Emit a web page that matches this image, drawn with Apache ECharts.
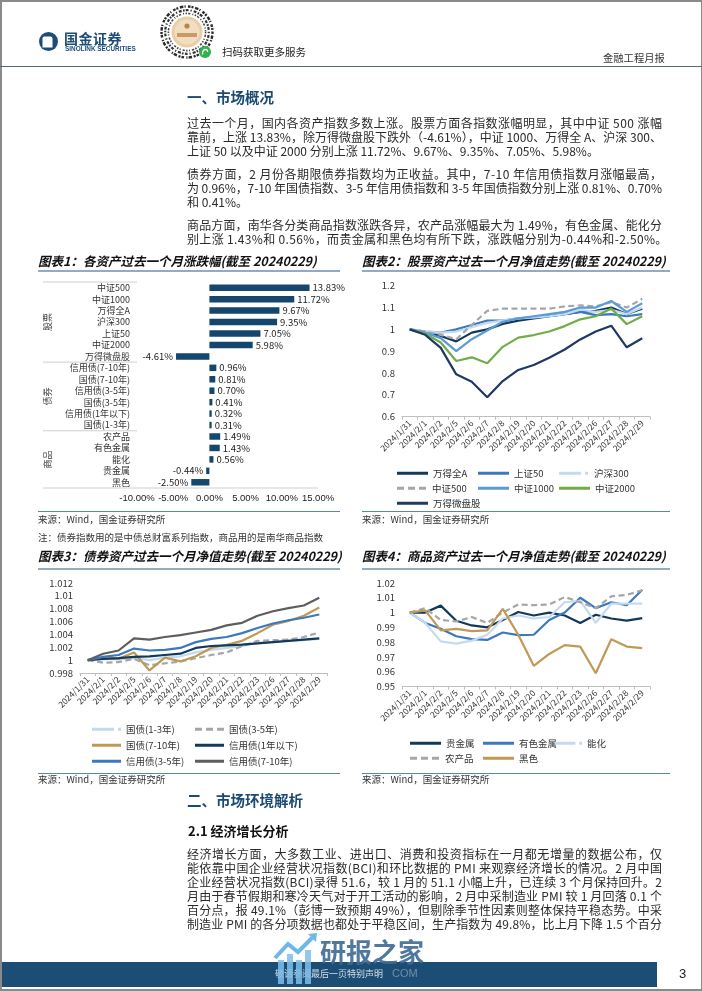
<!DOCTYPE html>
<html><head><meta charset="utf-8">
<script src="https://cdn.jsdelivr.net/npm/echarts/dist/echarts.min.js"></script>
<style>
html,body{margin:0;padding:0;background:#fff;}
#page{position:relative;width:702px;height:991px;overflow:hidden;background:#fff;font-family:"Noto Sans CJK SC","Liberation Sans",sans-serif;}
#chart{position:absolute;left:0;top:0;width:702px;height:991px;z-index:1;}
.t{position:absolute;z-index:2;white-space:nowrap;color:#222;}
.ln{position:absolute;z-index:2;left:187px;font-size:12px;line-height:14px;height:14px;color:#2a2a2a;white-space:nowrap;}
.h1{position:absolute;z-index:2;left:187px;font-size:14.5px;font-weight:bold;color:#1b4a72;line-height:20px;white-space:nowrap;}
.ct{position:absolute;z-index:2;font-size:12.5px;font-weight:bold;font-style:italic;color:#111;line-height:16px;white-space:nowrap;}
.src{position:absolute;z-index:2;font-size:9.5px;color:#333;line-height:12px;white-space:nowrap;}
.hl{position:absolute;z-index:2;}
</style></head>
<body>
<div id="page">
  <div id="chart"></div>

  <!-- page frame -->
  <div class="hl" style="left:0;top:0;width:702px;height:1.5px;background:#8a8a8a"></div>
  <div class="hl" style="left:0;top:0;width:1.5px;height:991px;background:#8a8a8a"></div>
  <div class="hl" style="right:0;top:0;width:1.5px;height:991px;background:#8a8a8a"></div>
  <div class="hl" style="left:0;bottom:0;width:702px;height:2px;background:#8a8a8a"></div>

  <!-- header -->
  <svg class="hl" style="left:0;top:0" width="702" height="70">
    <circle cx="48.5" cy="41.5" r="9.5" fill="#1b4d78"/>
    <path d="M44.5 36.5 h6 a2 2 0 0 1 2 2 v9 h-10 v-9 a2 2 0 0 1 2 -2z" fill="#fff"/>
    <circle cx="187" cy="32" r="25.5" fill="none" stroke="#2a2a2a" stroke-width="2.4" stroke-dasharray="2 1.6 3.5 1.2 1.2 2.4 2.6 1"/>
    <circle cx="187" cy="32" r="21.8" fill="none" stroke="#333" stroke-width="2.2" stroke-dasharray="1.2 2 2.8 1.4 1.6 1.1 3 2"/>
    <circle cx="187" cy="32" r="18.6" fill="none" stroke="#444" stroke-width="1.6" stroke-dasharray="1.5 1.3 2.2 2 1 1.5"/>
    <circle cx="187" cy="32" r="15.5" fill="#e9cfa8"/>
    <circle cx="187" cy="32" r="12.5" fill="#f1ddc0"/>
    <circle cx="187" cy="26" r="2.6" fill="#b7854c"/>
    <rect x="177" y="33" width="20" height="4" fill="#c99a63"/>
    <circle cx="205" cy="52" r="6" fill="#2fb24c"/>
    <path d="M202.5 54.5 q0 -5 3 -5 q2.5 0 2 2.5" stroke="#fff" stroke-width="1.3" fill="none"/>
  </svg>
  <div class="t" style="left:64px;top:29px;font-size:14px;font-weight:bold;color:#1b4d78;line-height:18px;letter-spacing:0.5px">国金证券</div>
  <div class="t" style="left:65px;top:45px;font-size:6.4px;font-weight:bold;color:#1b4d78;line-height:8px;font-family:'Liberation Sans',sans-serif">SINOLINK SECURITIES</div>
  <div class="t" style="left:222px;top:45px;font-size:10.5px;color:#222;line-height:14px">扫码获取更多服务</div>
  <div class="t" style="left:603px;top:51px;font-size:10.3px;color:#333;line-height:13px">金融工程月报</div>
  <div class="hl" style="left:0;top:65.5px;width:702px;height:1.5px;background:#4f6b84"></div>

  <!-- section 1 -->
  <div class="h1" style="top:87px">一、市场概况</div>
  <div class="ln j" style="top:116px">过去一个月，国内各资产指数多数上涨。股票方面各指数涨幅明显，其中中证 500 涨幅</div>
  <div class="ln j" style="top:130px">靠前，上涨 13.83%，除万得微盘股下跌外（-4.61%），中证 1000、万得全 A、沪深 300、</div>
  <div class="ln" style="top:144px">上证 50 以及中证 2000 分别上涨 11.72%、9.67%、9.35%、7.05%、5.98%。</div>
  <div class="ln j" style="top:167px">债券方面，2 月份各期限债券指数均为正收益。其中，7-10 年信用债指数月涨幅最高，</div>
  <div class="ln j" style="top:181px">为 0.96%，7-10 年国债指数、3-5 年信用债指数和 3-5 年国债指数分别上涨 0.81%、0.70%</div>
  <div class="ln" style="top:195px">和 0.41%。</div>
  <div class="ln j" style="top:218px">商品方面，南华各分类商品指数涨跌各异，农产品涨幅最大为 1.49%，有色金属、能化分</div>
  <div class="ln" style="top:232px;letter-spacing:0.35px">别上涨 1.43%和 0.56%，而贵金属和黑色均有所下跌，涨跌幅分别为-0.44%和-2.50%。</div>

  <!-- chart titles row 1 -->
  <div class="ct" style="left:38px;top:253px">图表1：各资产过去一个月涨跌幅(截至 20240229)</div>
  <div class="ct" style="left:362px;top:253px">图表2：股票资产过去一个月净值走势(截至 20240229)</div>
  <div class="hl" style="left:38px;top:270px;width:302px;height:2px;background:#93abc0"></div>
  <div class="hl" style="left:362px;top:270px;width:308px;height:2px;background:#93abc0"></div>
  <div class="hl" style="left:38px;top:510.5px;width:302px;height:1.5px;background:#5f84a6"></div>
  <div class="hl" style="left:362px;top:510.5px;width:308px;height:1.5px;background:#5f84a6"></div>
  <div class="src" style="left:38px;top:513px">来源：Wind，国金证券研究所</div>
  <div class="src" style="left:362px;top:513px">来源：Wind，国金证券研究所</div>
  <div class="src" style="left:38px;top:531px">注：债券指数用的是中债总财富系列指数，商品用的是南华商品指数</div>

  <!-- chart titles row 2 -->
  <div class="ct" style="left:38px;top:548px">图表3：债券资产过去一个月净值走势(截至 20240229)</div>
  <div class="ct" style="left:362px;top:548px">图表4：商品资产过去一个月净值走势(截至 20240229)</div>
  <div class="hl" style="left:38px;top:568px;width:302px;height:2px;background:#93abc0"></div>
  <div class="hl" style="left:362px;top:568px;width:308px;height:2px;background:#93abc0"></div>
  <div class="hl" style="left:38px;top:772.5px;width:302px;height:1.5px;background:#5f84a6"></div>
  <div class="hl" style="left:362px;top:772.5px;width:308px;height:1.5px;background:#5f84a6"></div>
  <div class="src" style="left:38px;top:773px">来源：Wind，国金证券研究所</div>
  <div class="src" style="left:362px;top:773px">来源：Wind，国金证券研究所</div>

  <!-- section 2 -->
  <div class="h1" style="top:790px">二、市场环境解析</div>
  <div class="t" style="left:188px;top:822px;font-size:13px;font-weight:bold;color:#111;line-height:18px">2.1 经济增长分析</div>
  <div class="ln j" style="top:847px">经济增长方面，大多数工业、进出口、消费和投资指标在一月都无增量的数据公布，仅</div>
  <div class="ln j" style="top:861px">能依靠中国企业经营状况指数(BCI)和环比数据的 PMI 来观察经济增长的情况。2 月中国</div>
  <div class="ln j" style="top:875px">企业经营状况指数(BCI)录得 51.6，较 1 月的 51.1 小幅上升，已连续 3 个月保持回升。2</div>
  <div class="ln j" style="top:889px">月由于春节假期和寒冷天气对于开工活动的影响，2 月中采制造业 PMI 较 1 月回落 0.1 个</div>
  <div class="ln j" style="top:903px">百分点，报 49.1%（彭博一致预期 49%），但剔除季节性因素则整体保持平稳态势。中采</div>
  <div class="ln j" style="top:917px">制造业 PMI 的各分项数据也都处于平稳区间，生产指数为 49.8%，比上月下降 1.5 个百分</div>

  <!-- footer -->
  <div class="hl" style="left:1.5px;top:962px;width:655px;height:25px;background:#1c4e75"></div>
  <div class="t" style="left:275px;top:968px;font-size:9px;color:#d5dee8;line-height:12px;z-index:3">敬请参阅最后一页特别声明</div>
  <div class="t" style="left:679px;top:966px;font-size:13px;color:#222;line-height:16px;font-family:'Liberation Sans',sans-serif">3</div>
  <!-- watermark -->
  <svg class="hl" style="left:270px;top:930px;z-index:3" width="60" height="60">
    <rect x="8" y="30" width="6" height="24" fill="#7cc0ea" opacity="0.85"/>
    <rect x="17" y="24" width="6" height="30" fill="#7cc0ea" opacity="0.85"/>
    <rect x="26" y="30" width="6" height="24" fill="#7cc0ea" opacity="0.85"/>
    <rect x="35" y="20" width="6" height="34" fill="#7cc0ea" opacity="0.85"/>
    <path d="M5 28 L18 14 L28 22 L44 6" stroke="#6fb8e6" stroke-width="4" fill="none"/>
    <path d="M38 4 L47 3 L46 12 z" fill="#6fb8e6"/>
  </svg>
  <div class="t" style="left:320px;top:936px;font-size:26px;font-weight:bold;color:#3d6a93;line-height:30px;opacity:0.9;z-index:3">研报之家</div>
  <div class="t" style="left:392px;top:967px;font-size:11px;color:rgba(255,255,255,0.35);line-height:12px;z-index:3;font-family:'Liberation Sans',sans-serif">COM</div>
</div>

<script>
// manual justification of the full-width text lines to 475px
document.querySelectorAll('.ln.j').forEach(el=>{
  const txt = el.textContent;
  el.innerHTML = '';
  const sp = document.createElement('span');
  sp.textContent = txt;
  el.appendChild(sp);
  const w = sp.getBoundingClientRect().width;
  const n = Array.from(txt).length;
  el.style.letterSpacing = ((475 - w) / (n - 1)) + 'px';
});

// ---------- data ----------
const barCategories = ['中证500','中证1000','万得全A','沪深300','上证50','中证2000','万得微盘股',
  '信用债(7-10年)','国债(7-10年)','信用债(3-5年)','国债(3-5年)','信用债(1年以下)','国债(1-3年)',
  '农产品','有色金属','能化','贵金属','黑色'];
const barValues = [13.83,11.72,9.67,9.35,7.05,5.98,-4.61,0.96,0.81,0.70,0.41,0.32,0.31,1.49,1.43,0.56,-0.44,-2.50];
const barGroups = [['股票',0,7],['债券',7,13],['商品',13,18]];

const dates = ['2024/1/31','2024/2/1','2024/2/2','2024/2/5','2024/2/6','2024/2/7','2024/2/8','2024/2/19',
  '2024/2/20','2024/2/21','2024/2/22','2024/2/23','2024/2/26','2024/2/27','2024/2/28','2024/2/29'];

// stock NAV
const wdqA   = [1,0.985,0.97,0.945,0.985,1.0,1.025,1.04,1.05,1.06,1.07,1.08,1.085,1.10,1.07,1.095];
const sz50   = [1,0.99,0.985,1.0,1.02,1.04,1.04,1.05,1.055,1.06,1.07,1.08,1.065,1.07,1.06,1.07];
const hs300  = [1,0.99,0.985,0.99,1.01,1.03,1.04,1.05,1.055,1.06,1.07,1.09,1.08,1.09,1.07,1.10];
const zz500  = [1,0.99,0.975,0.955,1.02,1.085,1.095,1.095,1.095,1.095,1.105,1.11,1.105,1.125,1.10,1.14];
const zz1000 = [1,0.985,0.96,0.90,0.955,0.995,1.035,1.05,1.06,1.07,1.08,1.10,1.10,1.13,1.08,1.12];
const zz2000 = [1,0.98,0.94,0.855,0.872,0.845,0.92,0.962,0.974,0.99,1.015,1.046,1.06,1.096,1.024,1.06];
const wdwp   = [1,0.975,0.915,0.794,0.76,0.689,0.763,0.814,0.837,0.87,0.908,0.954,0.99,1.017,0.918,0.959];

// bond NAV
const gz13   = [1,1.0002,1.0001,1.0003,1.0000,1.0004,1.0006,1.0012,1.0016,1.0019,1.0022,1.0027,1.0028,1.0030,1.0031,1.0033];
const gz35   = [1,0.9996,0.9997,1.0002,0.9992,0.9995,0.9998,1.0003,1.0008,1.0012,1.0022,1.0030,1.0031,1.0032,1.0036,1.0043];
const gz710  = [1,1.0003,1.0002,1.0012,0.9984,1.0004,0.9998,1.0006,1.0019,1.0024,1.0030,1.0042,1.0055,1.0061,1.0069,1.0082];
const xy1    = [1,1.0002,1.0003,1.0005,1.0006,1.0008,1.0010,1.0019,1.0022,1.0023,1.0024,1.0026,1.0028,1.0030,1.0032,1.0034];
const xy35   = [1,1.0005,1.0008,1.0018,1.0015,1.0016,1.0019,1.0028,1.0033,1.0036,1.0042,1.0050,1.0057,1.0062,1.0066,1.0071];
const xy710  = [1,1.0010,1.0015,1.0034,1.0032,1.0036,1.0039,1.0043,1.0047,1.0054,1.0058,1.0069,1.0076,1.0081,1.0085,1.0097];

// commodity NAV
const gjs  = [1,1.0,1.0047,0.9945,0.9913,0.990,0.995,1.0004,0.998,1.0,0.998,0.993,0.9985,0.996,0.9945,0.9963];
const ysjs = [1,0.993,0.989,0.984,0.982,0.9815,0.9865,0.9848,0.985,0.995,1.0,1.010,1.003,1.007,1.005,1.0155];
const nh   = [1,0.993,0.9805,0.979,0.981,0.985,0.996,0.998,0.996,0.997,1.007,1.008,0.993,1.006,1.006,1.006];
const ncp  = [1,1.003,0.995,0.994,0.997,0.993,1.0,1.0055,1.005,1.0055,1.0105,1.007,1.003,1.011,1.012,1.015];
const hs   = [1,1.0015,0.988,0.989,0.9875,0.988,1.0025,0.985,0.964,0.972,0.978,0.977,0.959,0.982,0.977,0.976];

// ---------- styling ----------
const FONT = '"Noto Sans CJK SC","Liberation Sans",sans-serif';
const COL = {navy:'#12395c', mid:'#3b78bd', light:'#c3dbf0', gray:'#a6a6a6', sky:'#5b9bd5',
  green:'#70ad47', indigo:'#203864', gold:'#c09a55', dgray:'#5e5e5e', bar:'#15466e'};
const ICONS = {
  solid: 'rect',
  dash: 'path://M0 0h7v3h-7z M11 0h7v3h-7z M22 0h7v3h-7z',
  dot: 'path://M0 0h22v3h-22z M26 0h3v3h-3z'
};

function catX(gi){
  return {type:'category', gridIndex:gi, data:dates, boundaryGap:true,
    axisLine:{lineStyle:{color:'#bfbfbf', width:1}},
    axisTick:{show:true, interval:0, length:3, lineStyle:{color:'#bfbfbf'}},
    axisLabel:{interval:0, rotate:45, fontSize:8.5, color:'#333', margin:5, fontFamily:FONT},
    splitLine:{show:false}};
}
function valY(gi,min,max,interval){
  return {type:'value', gridIndex:gi, min:min, max:max, interval:interval,
    axisLine:{show:false}, axisTick:{show:false}, splitLine:{show:false},
    axisLabel:{fontSize:9.5, color:'#333', margin:7, fontFamily:FONT}};
}
function line(name, data, color, gi, dashed){
  return {type:'line', name:name, data:data, xAxisIndex:gi, yAxisIndex:gi, symbol:'none',
    smooth:false, lineStyle:{color:color, width:2.2, type: dashed ? [6,3.5] : 'solid'},
    itemStyle:{color:color}, z:2};
}
function leg(name, left, top, w, kind){
  return {data:[name], left:left, top:top, itemWidth:w, itemHeight:3, padding:0, itemGap:0,
    icon: ICONS[kind || 'solid'], selectedMode:false,
    itemStyle:{borderWidth:0}, lineStyle:{width:0},
    textStyle:{fontSize:9.5, color:'#333', fontFamily:FONT}};
}

const chart = echarts.init(document.getElementById('chart'), null, {renderer:'canvas'});
const option = {
  animation:false,
  textStyle:{fontFamily:FONT},
  grid:[
    {left:137, top:282, width:181, height:206},
    {left:402, top:285.7, width:248, height:131},
    {left:80, top:583, width:247, height:90},
    {left:402, top:583, width:248, height:103.5}
  ],
  xAxis:[
    {type:'value', gridIndex:0, min:-10, max:15, interval:5,
      axisLine:{show:false}, axisTick:{show:false}, splitLine:{show:false},
      axisLabel:{formatter:v=>v.toFixed(2)+'%', fontSize:9.5, color:'#222', margin:5, fontFamily:'"Liberation Sans",sans-serif'}},
    catX(1), catX(2), catX(3)
  ],
  yAxis:[
    {type:'category', gridIndex:0, data:barCategories, inverse:true,
      axisLine:{show:false, onZero:false}, axisTick:{show:false}, splitLine:{show:false},
      axisLabel:{interval:0, fontSize:9, color:'#333', margin:7, fontFamily:FONT}},
    valY(1,0.6,1.2,0.1), valY(2,0.998,1.012,0.002), valY(3,0.95,1.02,0.01)
  ],
  legend:[
    leg('万得全A',397,468.5,31), leg('上证50',478,468.5,31), leg('沪深300',559,468.5,31,'dot'),
    leg('中证500',397,483.5,31,'dash'), leg('中证1000',478,483.5,31), leg('中证2000',559,483.5,31),
    leg('万得微盘股',397,498.5,31),
    leg('国债(1-3年)',92,724.5,29,'dot'), leg('国债(3-5年)',195,724.5,29,'dash'),
    leg('国债(7-10年)',92,740.5,29), leg('信用债(1年以下)',195,740.5,29),
    leg('信用债(3-5年)',92,756.5,29), leg('信用债(7-10年)',195,756.5,29),
    leg('贵金属',410,738.5,31), leg('有色金属',483,738.5,31), leg('能化',555,738.5,27,'dot'),
    leg('农产品',410,753.5,31,'dash'), leg('黑色',483,753.5,31)
  ],
  series:[
    {type:'bar', xAxisIndex:0, yAxisIndex:0, barWidth:6.5,
      data: barValues.map(v=>({value:v, label:{position: v<0 ? 'left' : 'right'}})),
      itemStyle:{color:COL.bar},
      label:{show:true, formatter:p=>p.value.toFixed(2)+'%', fontSize:9.5, color:'#222', distance:3, fontFamily:FONT}},
    line('万得全A', wdqA, COL.navy, 1),
    line('上证50', sz50, COL.mid, 1),
    line('沪深300', hs300, COL.light, 1),
    line('中证500', zz500, COL.gray, 1, true),
    line('中证1000', zz1000, COL.sky, 1),
    line('中证2000', zz2000, COL.green, 1),
    line('万得微盘股', wdwp, COL.indigo, 1),
    line('国债(1-3年)', gz13, COL.light, 2),
    line('国债(3-5年)', gz35, COL.gray, 2, true),
    line('国债(7-10年)', gz710, COL.gold, 2),
    line('信用债(1年以下)', xy1, COL.navy, 2),
    line('信用债(3-5年)', xy35, COL.mid, 2),
    line('信用债(7-10年)', xy710, COL.dgray, 2),
    line('贵金属', gjs, COL.navy, 3),
    line('有色金属', ysjs, COL.mid, 3),
    line('能化', nh, COL.light, 3),
    line('农产品', ncp, COL.gray, 3, true),
    line('黑色', hs, COL.gold, 3)
  ]
};
chart.setOption(option);

// group separators and group labels of chart 1, placed from the category axis scale
const yA = chart.convertToPixel({yAxisIndex:0}, 0);
const yB = chart.convertToPixel({yAxisIndex:0}, 1);
const band = yB - yA;
const xLeft = chart.convertToPixel({xAxisIndex:0}, -10);
const xRight = chart.convertToPixel({xAxisIndex:0}, 15);
const edge = i => yA - band/2 + i*band;
const gfx = [];
gfx.push({type:'line', shape:{x1:43, y1:edge(0), x2:xLeft, y2:edge(0)}, style:{stroke:'#d0d0d0', lineWidth:1}});
barGroups.forEach(([name,s,e])=>{
  const isLast = e === barCategories.length;
  gfx.push({type:'line', shape:{x1:43, y1:edge(e), x2: isLast ? xRight : xLeft, y2:edge(e)},
    style:{stroke:'#d0d0d0', lineWidth:1}});
  gfx.push({type:'text', x:48, y:(edge(s)+edge(e))/2, rotation:Math.PI/2,
    style:{text:name, fill:'#444', font:'9px '+FONT, align:'center', verticalAlign:'middle'}});
});
chart.setOption({graphic:gfx});
</script>
</body></html>
